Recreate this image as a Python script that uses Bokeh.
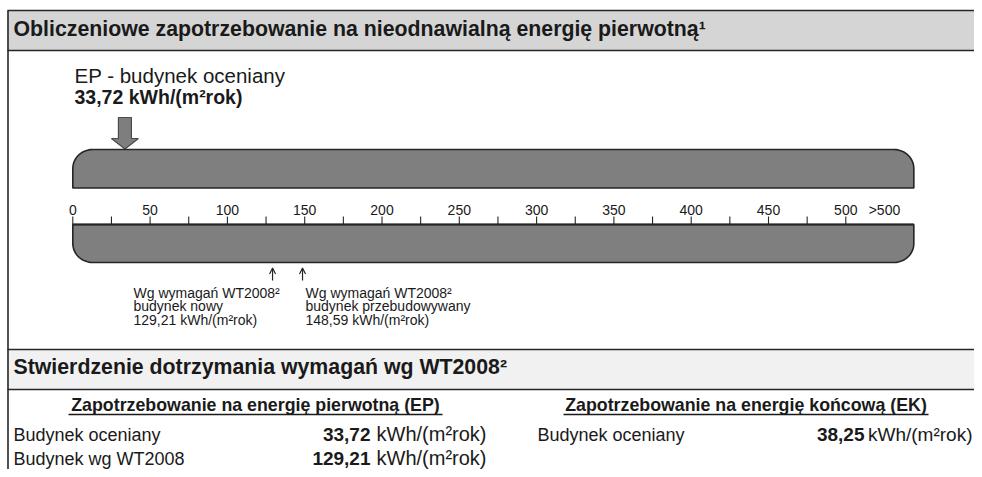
import numpy as np
from bokeh.plotting import figure
from bokeh.models import Range1d, ColumnDataSource, Arrow, OpenHead
from bokeh.core.properties import value
from bokeh.embed import file_html
from bokeh.resources import INLINE

# ---------------- data ----------------
TITLE = "Obliczeniowe zapotrzebowanie na nieodnawialną energię pierwotną¹"
EP_LABEL = "EP - budynek oceniany"
EP_VALUE = 33.72
EP_TEXT = "33,72 kWh/(m²rok)"

MAJOR_TICKS = [0, 50, 100, 150, 200, 250, 300, 350, 400, 450, 500]
MAJOR_LABELS = ["0", "50", "100", "150", "200", "250", "300", "350", "400", "450", "500"]
MINOR_TICKS = [25, 75, 125, 175, 225, 275, 325, 375, 425, 475]
OVER_LABEL = ">500"
OVER_POS = 525
SCALE_END = 544

REQ_VALUES = [129.21, 148.59]
REQ_LINE1 = ["Wg wymagań WT2008²", "Wg wymagań WT2008²"]
REQ_LINE2 = ["budynek nowy", "budynek przebudowywany"]
REQ_LINE3 = ["129,21 kWh/(m²rok)", "148,59 kWh/(m²rok)"]

SECTION2 = "Stwierdzenie dotrzymania wymagań wg WT2008²"
COL_HEADERS = ["Zapotrzebowanie na energię pierwotną (EP)",
               "Zapotrzebowanie na energię końcową (EK)"]
EP_ROWS = ["Budynek oceniany", "Budynek wg WT2008"]
EP_ROW_VALUES = ["33,72", "129,21"]
EK_ROWS = ["Budynek oceniany"]
EK_ROW_VALUES = ["38,25"]
UNIT = "kWh/(m²rok)"

# ---------------- layout ----------------
W, H = 974, 469
ORIGIN_PX = 72.3          # x of value 0
PX_PER_UNIT = 1.546
FONT = value("Liberation Sans")
TXT = "#1a1a1a"
DARK = "#262626"
BAR_FILL = "#7f7f7f"

x_start = (0 - ORIGIN_PX) / PX_PER_UNIT
x_end = (W - ORIGIN_PX) / PX_PER_UNIT

p = figure(width=W, height=H, output_backend="svg", toolbar_location=None,
           x_range=Range1d(x_start, x_end), y_range=Range1d(start=H, end=0),
           x_axis_type=None, y_axis_type=None, min_border=0,
           outline_line_color=None, background_fill_color="white")
p.title.visible = False
p.grid.visible = False
p.extra_x_ranges = {"px": Range1d(0, W)}

def ptext(x, baseline, text, size, bold=False, align="left", rng="px", color=TXT):
    mid = [b - 0.36 * size for b in baseline]
    p.text(x=x, y=mid, text=text, x_range_name=rng, text_font=FONT,
           text_font_size=f"{size}px", text_font_style="bold" if bold else "normal",
           text_align=align, text_baseline="middle", text_color=color)

# ---- section 1 header ----
p.quad(left=[7], right=[W], top=[10], bottom=[50], x_range_name="px",
       fill_color="#d5d5d5", line_color=None)
p.segment(x0=[7, 7], x1=[W, W], y0=[10, 50], y1=[10, 50], x_range_name="px",
          line_color=DARK, line_width=1.6)
ptext([13], [36.5], [TITLE], 21.3, bold=True)

# ---- EP indicator ----
ptext([74], [82], [EP_LABEL], 20.5)
ptext([74], [104], [EP_TEXT], 19.5, bold=True)

hs, hh = 6.5 / PX_PER_UNIT, 13.5 / PX_PER_UNIT
v = EP_VALUE
p.patch(x=[v - hs, v + hs, v + hs, v + hh, v, v - hh, v - hs],
        y=[117, 117, 138, 138, 148.5, 138, 138],
        fill_color="#7e7e7e", line_color="#4a4a4a", line_width=1.2)

# ---- rounded bars ----
rx, ry = 20 / PX_PER_UNIT, 19
t = np.linspace(0, np.pi / 2, 16)

def top_rounded(x0, x1, top, bottom):
    xs = [x0]; ys = [bottom]
    xs += list(x0 + rx - rx * np.cos(t)); ys += list(top + ry - ry * np.sin(t))
    xs += list(x1 - rx + rx * np.sin(t)); ys += list(top + ry - ry * np.cos(t))
    xs += [x1]; ys += [bottom]
    return xs, ys

def bottom_rounded(x0, x1, top, bottom):
    xs = [x0]; ys = [top]
    xs += list(x0 + rx - rx * np.cos(t)); ys += list(bottom - ry + ry * np.sin(t))
    xs += list(x1 - rx + rx * np.sin(t)); ys += list(bottom - ry + ry * np.cos(t))
    xs += [x1]; ys += [top]
    return xs, ys

bx, by = top_rounded(0, SCALE_END, 149, 187.5)
p.patch(x=bx, y=by, fill_color=BAR_FILL, line_color=DARK, line_width=1.6)
bx, by = bottom_rounded(0, SCALE_END, 224, 262)
p.patch(x=bx, y=by, fill_color=BAR_FILL, line_color=DARK, line_width=1.6)

# ---- scale ----
p.segment(x0=[0], x1=[SCALE_END], y0=[224], y1=[224], line_color=DARK, line_width=2)
all_ticks = MAJOR_TICKS + MINOR_TICKS
p.segment(x0=all_ticks, x1=all_ticks, y0=[216] * len(all_ticks), y1=[224] * len(all_ticks),
          line_color=DARK, line_width=1.1)
ptext(MAJOR_TICKS, [215] * len(MAJOR_TICKS), MAJOR_LABELS, 14, align="center", rng="default")
ptext([OVER_POS], [215], [OVER_LABEL], 14, align="center", rng="default")

# ---- requirement markers ----
src = ColumnDataSource(dict(x=REQ_VALUES, y0=[280] * 2, y1=[267.5] * 2))
p.add_layout(Arrow(end=OpenHead(size=6, line_width=1.2, line_color=DARK), source=src,
                   x_start="x", y_start="y0", x_end="x", y_end="y1",
                   line_color=DARK, line_width=1.2))
REQ_TEXT_X = [133, 305]
ptext(REQ_TEXT_X, [297.5] * 2, REQ_LINE1, 14)
ptext(REQ_TEXT_X, [311] * 2, REQ_LINE2, 14)
ptext(REQ_TEXT_X, [324.5] * 2, REQ_LINE3, 14)

# ---- section 2 header ----
p.quad(left=[7], right=[W], top=[349], bottom=[389], x_range_name="px",
       fill_color="#f1f1f1", line_color=None)
p.segment(x0=[7, 7], x1=[W, W], y0=[349, 389], y1=[349, 389], x_range_name="px",
          line_color=DARK, line_width=1.6)
ptext([13], [374.5], [SECTION2], 21.3, bold=True)

# ---- table ----
ptext([255, 745.5], [411, 411], COL_HEADERS, 17.8, bold=True, align="center")
p.segment(x0=[68, 563], x1=[442, 928], y0=[414, 414], y1=[414, 414],
          x_range_name="px", line_color=TXT, line_width=1.3)

row_base = [441, 465]
ptext([13] * len(EP_ROWS), row_base[:len(EP_ROWS)], EP_ROWS, 18)
ptext([370] * len(EP_ROWS), row_base[:len(EP_ROWS)], EP_ROW_VALUES, 19, bold=True, align="right")
ptext([376] * len(EP_ROWS), row_base[:len(EP_ROWS)], [UNIT] * len(EP_ROWS), 20)

ptext([537] * len(EK_ROWS), row_base[:len(EK_ROWS)], EK_ROWS, 18)
ptext([864] * len(EK_ROWS), row_base[:len(EK_ROWS)], EK_ROW_VALUES, 19, bold=True, align="right")
ptext([972] * len(EK_ROWS), row_base[:len(EK_ROWS)], [UNIT] * len(EK_ROWS), 19, align="right")

# ---- left frame border ----
p.segment(x0=[7.5], x1=[7.5], y0=[10], y1=[H], x_range_name="px",
          line_color=DARK, line_width=1.6)

open("out.html", "w").write(file_html(p, INLINE))
